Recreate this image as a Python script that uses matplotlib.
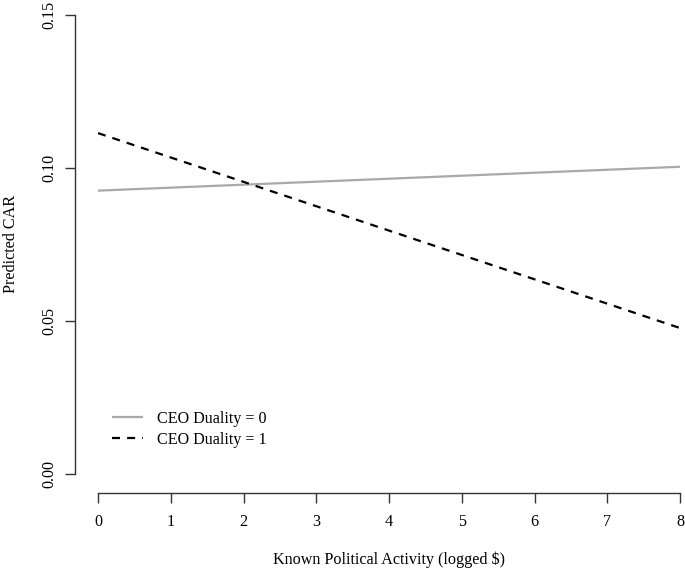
import numpy as np
import matplotlib
matplotlib.use("Agg")
import matplotlib.pyplot as plt

plt.rcParams['font.family'] = ['Liberation Serif', 'DejaVu Serif']

# predicted CAR at the ends of the x range
activity = [0, 8]
car_dual0 = [0.0926, 0.1004]
car_dual1 = [0.1114, 0.0477]
labels = ["CEO Duality = 0", "CEO Duality = 1"]
xticks = list(range(0, 9))
yticks = [0.00, 0.05, 0.10, 0.15]

W, H = 685, 571
fs = 11.6
fig = plt.figure(figsize=(W / 100, H / 100), dpi=100)
ax = fig.add_axes([98 / W, 1 - 474 / H, (680 - 98) / W, (474 - 15) / H])

ax.plot(activity, car_dual0, color="#a9a9a9", lw=1.6, solid_capstyle="butt")
ax.plot(activity, car_dual1, color="black", lw=1.6, dashes=(3.6, 3.2))

ax.set_xlim(0, 8)
ax.set_ylim(0, 0.15)
ax.set_xticks(xticks)
ax.set_yticks(yticks)
ax.set_yticklabels(["%.2f" % v for v in yticks])

for s in ["top", "right"]:
    ax.spines[s].set_visible(False)
ax.spines["left"].set_position(("outward", 16.5))
ax.spines["bottom"].set_position(("outward", 13.7))
for s in ["left", "bottom"]:
    ax.spines[s].set_color("#333333")
    ax.spines[s].set_linewidth(1.0)
ax.tick_params(length=7, width=1.0, color="#333333", labelsize=fs, pad=8)
ax.tick_params(axis="y", labelrotation=90, pad=6)
for t in ax.get_yticklabels():
    t.set_va("center")

fig.text(11 / W, 1 - 244 / H, "Predicted CAR", rotation=90, ha="center", va="center", fontsize=fs)
fig.text(389 / W, 1 - 560 / H, "Known Political Activity (logged $)", ha="center", va="center", fontsize=fs)

ax.legend(labels, loc="upper left", bbox_to_anchor=(112 / W, 1 - 411 / H),
          bbox_transform=fig.transFigure, frameon=False, fontsize=fs,
          handlelength=1.9, handletextpad=0.9, labelspacing=0.3,
          borderpad=0, borderaxespad=0)

fig.savefig("out.png", dpi=100)
plt.close(fig)
